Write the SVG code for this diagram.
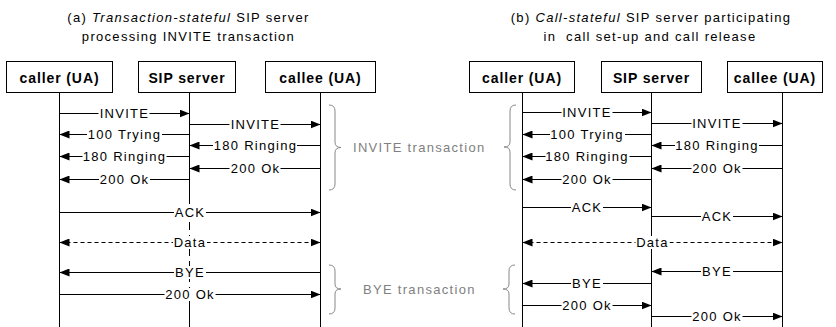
<svg xmlns="http://www.w3.org/2000/svg" width="836" height="327" viewBox="0 0 836 327">
  <style>
    .box { fill: #fff; stroke: #000; stroke-width: 1; }
    .bt { font-family: "Liberation Sans", Arial, sans-serif; font-size: 14px; font-weight: bold; letter-spacing: 0.9px; text-anchor: middle; fill: #000; }
    .life { stroke: #000; stroke-width: 1; fill: none; }
    .msg { stroke: #000; stroke-width: 1; fill: none; marker-end: url(#ah); }
    .both { stroke-dasharray: 4 3; marker-start: url(#ah); }
    .bg { fill: #fff; }
    .lbl { font-family: "Liberation Sans", Arial, sans-serif; font-size: 13px; letter-spacing: 1.3px; text-anchor: middle; fill: #000; }
    .title { font-family: "Liberation Sans", Arial, sans-serif; font-size: 13px; letter-spacing: 1.3px; text-anchor: middle; fill: #000; }
    .brace { fill: none; stroke: #888; stroke-width: 1; }
    .note { font-family: "Liberation Sans", Arial, sans-serif; font-size: 13px; letter-spacing: 1.3px; fill: #808080; }
  </style>
  <defs>
    <marker id="ah" viewBox="0 0 10 8" refX="10" refY="4" markerWidth="10" markerHeight="8" markerUnits="userSpaceOnUse" orient="auto-start-reverse">
      <path d="M0,0 L10,4 L0,8 z" fill="#000"/>
    </marker>
  </defs>
  <rect width="836" height="327" fill="#fff"/>

  <!-- titles -->
  <g id="titles">
    <text class="title" x="188.5" y="22">(a) <tspan font-style="italic">Transaction-stateful</tspan> SIP server</text>
    <text class="title" x="188.5" y="40.5">processing INVITE transaction</text>
    <text class="title" x="651" y="22">(b) <tspan font-style="italic">Call-stateful</tspan> SIP server participating</text>
    <text class="title" x="650" y="40.5" xml:space="preserve">in  call set-up and call release</text>
  </g>

  <!-- (a) participants -->
  <g id="a-caller">
    <line class="life" x1="59.5" y1="93" x2="59.5" y2="327"/>
    <rect class="box" x="6.5" y="61.5" width="106" height="31"/>
    <text class="bt" x="59.5" y="82.5">caller (UA)</text>
  </g>
  <g id="a-server">
    <line class="life" x1="189.5" y1="93" x2="189.5" y2="196"/>
    <line class="life" x1="189.5" y1="196" x2="189.5" y2="290" stroke-dasharray="8 5"/>
    <line class="life" x1="189.5" y1="290" x2="189.5" y2="327"/>
    <rect class="box" x="138.5" y="61.5" width="97" height="31"/>
    <text class="bt" x="187" y="82.5">SIP server</text>
  </g>
  <g id="a-callee">
    <line class="life" x1="320.5" y1="93" x2="320.5" y2="327"/>
    <rect class="box" x="265.5" y="61.5" width="110" height="31"/>
    <text class="bt" x="320.5" y="82.5">callee (UA)</text>
  </g>

  <!-- (b) participants -->
  <g id="b-caller">
    <line class="life" x1="522.5" y1="93" x2="522.5" y2="327"/>
    <rect class="box" x="469.5" y="61.5" width="105" height="31"/>
    <text class="bt" x="522" y="82.5">caller (UA)</text>
  </g>
  <g id="b-server">
    <line class="life" x1="651.5" y1="93" x2="651.5" y2="327"/>
    <rect class="box" x="601.5" y="61.5" width="100" height="31"/>
    <text class="bt" x="651.5" y="82.5">SIP server</text>
  </g>
  <g id="b-callee">
    <line class="life" x1="782.5" y1="93" x2="782.5" y2="327"/>
    <rect class="box" x="727.5" y="61.5" width="95" height="31"/>
    <text class="bt" x="775" y="82.5">callee (UA)</text>
  </g>

  <!-- message arrows -->
  <g id="connectors">
    <!-- (a) -->
    <line class="msg" x1="59.5" y1="113.5" x2="189.5" y2="113.5"/>
    <line class="msg" x1="189.5" y1="124.5" x2="320.5" y2="124.5"/>
    <line class="msg" x1="189.5" y1="134.5" x2="59.5" y2="134.5"/>
    <line class="msg" x1="320.5" y1="145.5" x2="189.5" y2="145.5"/>
    <line class="msg" x1="189.5" y1="156.5" x2="59.5" y2="156.5"/>
    <line class="msg" x1="320.5" y1="168.5" x2="189.5" y2="168.5"/>
    <line class="msg" x1="189.5" y1="179.5" x2="59.5" y2="179.5"/>
    <line class="msg" x1="59.5" y1="212.5" x2="320.5" y2="212.5"/>
    <line class="msg both" x1="59.5" y1="242.5" x2="320.5" y2="242.5"/>
    <line class="msg" x1="320.5" y1="272.5" x2="59.5" y2="272.5"/>
    <line class="msg" x1="59.5" y1="294.5" x2="320.5" y2="294.5"/>
    <!-- (b) -->
    <line class="msg" x1="522.5" y1="112.5" x2="651.5" y2="112.5"/>
    <line class="msg" x1="651.5" y1="123.5" x2="782.5" y2="123.5"/>
    <line class="msg" x1="651.5" y1="134.5" x2="522.5" y2="134.5"/>
    <line class="msg" x1="782.5" y1="145.5" x2="651.5" y2="145.5"/>
    <line class="msg" x1="651.5" y1="156.5" x2="522.5" y2="156.5"/>
    <line class="msg" x1="782.5" y1="168.5" x2="651.5" y2="168.5"/>
    <line class="msg" x1="651.5" y1="179.5" x2="522.5" y2="179.5"/>
    <line class="msg" x1="522.5" y1="207.5" x2="651.5" y2="207.5"/>
    <line class="msg" x1="651.5" y1="216.5" x2="782.5" y2="216.5"/>
    <line class="msg both" x1="522.5" y1="242.5" x2="782.5" y2="242.5"/>
    <line class="msg" x1="782.5" y1="271.5" x2="651.5" y2="271.5"/>
    <line class="msg" x1="651.5" y1="283.5" x2="522.5" y2="283.5"/>
    <line class="msg" x1="522.5" y1="305.5" x2="651.5" y2="305.5"/>
    <line class="msg" x1="651.5" y1="316.5" x2="782.5" y2="316.5"/>

    <!-- label backgrounds -->
    <g class="bg">
      <rect x="98.5" y="107" width="51" height="13"/>
      <rect x="229.5" y="118" width="51" height="13"/>
      <rect x="87" y="128" width="75" height="13"/>
      <rect x="213" y="139" width="84" height="13"/>
      <rect x="82.5" y="150" width="84" height="13"/>
      <rect x="229.5" y="162" width="51" height="13"/>
      <rect x="99" y="173" width="51" height="13"/>
      <rect x="174" y="206" width="32" height="13"/>
      <rect x="173" y="236" width="34" height="13"/>
      <rect x="174" y="266" width="32" height="13"/>
      <rect x="164.5" y="288" width="51" height="13"/>

      <rect x="561.5" y="106" width="51" height="13"/>
      <rect x="691.5" y="117" width="51" height="13"/>
      <rect x="550" y="128" width="75" height="13"/>
      <rect x="675" y="139" width="84" height="13"/>
      <rect x="545.5" y="150" width="84" height="13"/>
      <rect x="691.5" y="162" width="51" height="13"/>
      <rect x="561.5" y="173" width="51" height="13"/>
      <rect x="571" y="201" width="32" height="13"/>
      <rect x="701" y="210" width="32" height="13"/>
      <rect x="635.5" y="236" width="34" height="13"/>
      <rect x="701" y="265" width="32" height="13"/>
      <rect x="571" y="277" width="32" height="13"/>
      <rect x="561.5" y="299" width="51" height="13"/>
      <rect x="691.5" y="310" width="51" height="13"/>
    </g>

    <!-- labels (a) -->
    <text class="lbl" x="124.5" y="118">INVITE</text>
    <text class="lbl" x="255.5" y="129">INVITE</text>
    <text class="lbl" x="124.5" y="139">100 Trying</text>
    <text class="lbl" x="255.5" y="150">180 Ringing</text>
    <text class="lbl" x="124.5" y="161">180 Ringing</text>
    <text class="lbl" x="255.5" y="173">200 Ok</text>
    <text class="lbl" x="124.5" y="184">200 Ok</text>
    <text class="lbl" x="190" y="217">ACK</text>
    <text class="lbl" x="190" y="247">Data</text>
    <text class="lbl" x="190" y="277">BYE</text>
    <text class="lbl" x="190" y="299">200 Ok</text>

    <!-- labels (b) -->
    <text class="lbl" x="587" y="117">INVITE</text>
    <text class="lbl" x="717" y="128">INVITE</text>
    <text class="lbl" x="587" y="139">100 Trying</text>
    <text class="lbl" x="717" y="150">180 Ringing</text>
    <text class="lbl" x="587" y="161">180 Ringing</text>
    <text class="lbl" x="717" y="173">200 Ok</text>
    <text class="lbl" x="587" y="184">200 Ok</text>
    <text class="lbl" x="587" y="212">ACK</text>
    <text class="lbl" x="717" y="221">ACK</text>
    <text class="lbl" x="652.5" y="247">Data</text>
    <text class="lbl" x="717" y="276">BYE</text>
    <text class="lbl" x="587" y="288">BYE</text>
    <text class="lbl" x="587" y="310">200 Ok</text>
    <text class="lbl" x="717" y="321">200 Ok</text>
  </g>

  <!-- transaction braces -->
  <g id="braces">
    <path class="brace" d="M329,105 Q335,105 335,111 L335,142 Q335,147.5 341,147.5 Q335,147.5 335,153 L335,184 Q335,190 329,190"/>
    <path class="brace" d="M329,265 Q335,265 335,271 L335,284 Q335,289 341,289 Q335,289 335,294 L335,308 Q335,314 329,314"/>
    <path class="brace" d="M516,105 Q510,105 510,111 L510,142 Q510,147 504,147 Q510,147 510,152 L510,184 Q510,190 516,190"/>
    <path class="brace" d="M515,265 Q509,265 509,271 L509,284 Q509,289 503,289 Q509,289 509,294 L509,308 Q509,314 515,314"/>
    <text class="note" x="353" y="152">INVITE transaction</text>
    <text class="note" x="363" y="294">BYE transaction</text>
  </g>
</svg>
